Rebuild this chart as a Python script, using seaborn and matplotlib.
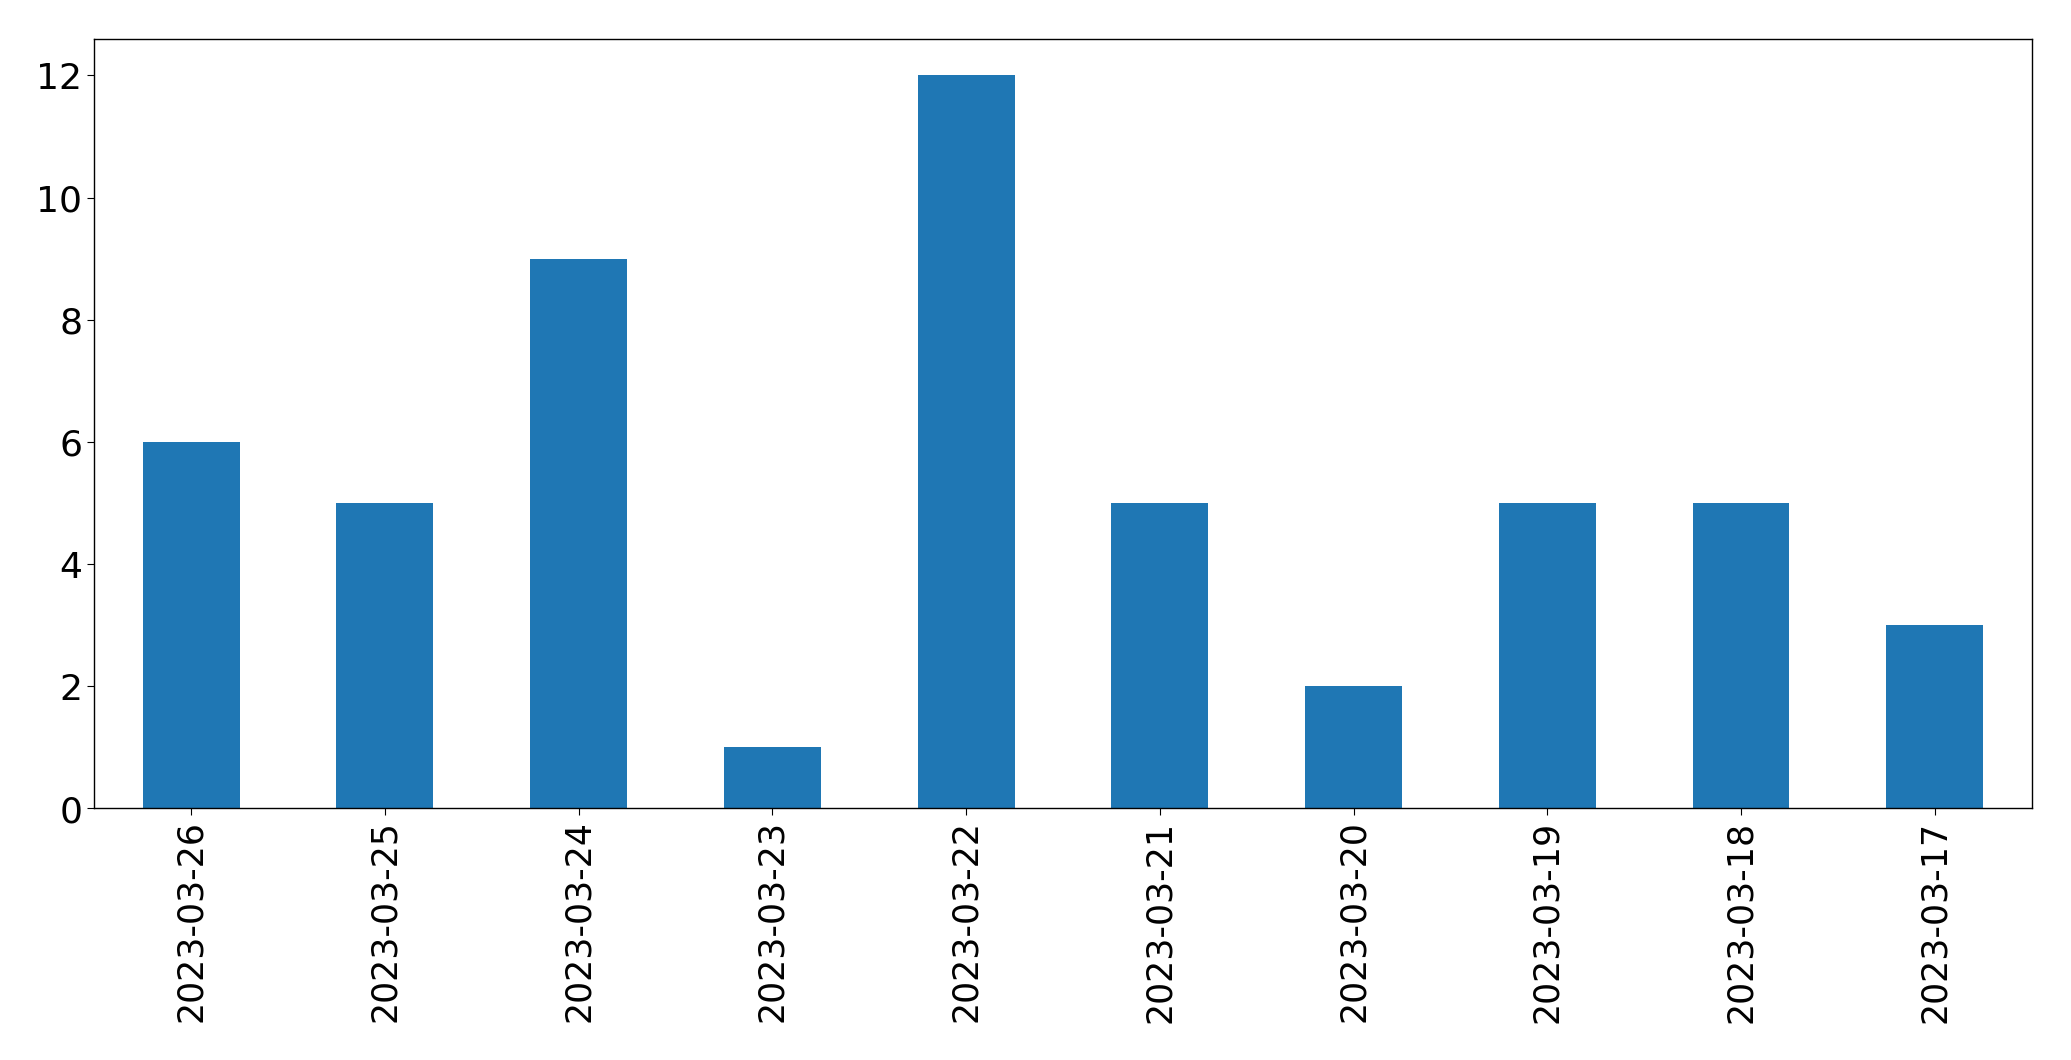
import matplotlib
matplotlib.use("Agg")
import matplotlib.pyplot as plt
import seaborn as sns
import pandas as pd

dates = ["2023-03-26", "2023-03-25", "2023-03-24", "2023-03-23", "2023-03-22",
         "2023-03-21", "2023-03-20", "2023-03-19", "2023-03-18", "2023-03-17"]
counts = [6, 5, 9, 1, 12, 5, 2, 5, 5, 3]

df = pd.DataFrame({"date": dates, "count": counts})

fig, ax = plt.subplots(figsize=(20.71, 10.605), dpi=100)
sns.barplot(data=df, x="date", y="count", order=dates, color="#1f77b4",
            saturation=1, width=0.5, ax=ax, errorbar=None)
ax.set_xlim(-0.5, len(dates) - 0.5)
ax.set_ylim(0, 12.6)
ax.set_xlabel("")
ax.set_ylabel("")
ax.tick_params(axis="x", labelrotation=90, labelsize=25, length=5)
ax.tick_params(axis="y", labelsize=26, length=5)
for s in ax.spines.values():
    s.set_visible(True)
    s.set_linewidth(1.0)
fig.subplots_adjust(left=0.0455, right=0.981, top=0.963, bottom=0.2375)
fig.savefig("out.png", dpi=100)
